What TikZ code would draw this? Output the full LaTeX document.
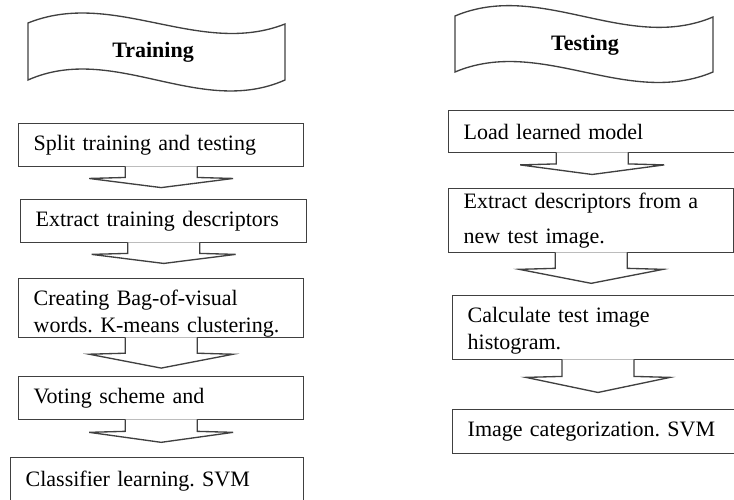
\documentclass[tikz,border=0pt]{standalone}
\usepackage{fontspec}
\setmainfont{Liberation Serif}
\usepackage{tikz}
\usetikzlibrary{calc}

\definecolor{edge}{HTML}{404040}
\newcommand{\stepfont}{\fontsize{16.5pt}{20.25pt}\selectfont\frenchspacing\hyphenpenalty=10000\relax}

% down-arrow callout hanging from box #1 towards box #2 (#3 = share of the gap)
\newcommand{\callarrow}[3]{%
  \coordinate (tip) at ($(#1.south)!#3!(#1.south |- #2.north)$);
  \coordinate (neck) at ($(#1.south)!0.5!(tip)$);
  \filldraw[arr] ($(#1.south)+(-36,-1)$) -- ($(neck)+(-36,0)$) -- ($(neck)+(-72,1)$)
    -- (tip) -- ($(neck)+(72,1)$) -- ($(neck)+(36,0)$) -- ($(#1.south)+(36,-1)$);
}

\begin{document}
\begin{tikzpicture}[
  x=0.75pt, y=-0.75pt,
  box/.style={draw=edge, line width=1pt, anchor=north west, align=left, inner xsep=11.25pt,
    font=\stepfont},
  arr/.style={draw=edge, fill=white, line width=1pt},
  wave/.style={draw=edge, line width=1pt},
  title/.style={font=\fontsize{16.5pt}{20pt}\selectfont\bfseries}
]
\useasboundingbox (0,0) rectangle (734,499);

% banners
\draw[wave] (28,23) .. controls (113.7,-11.6) and (199.3,57.6) .. (285,24)
  -- (285,80) .. controls (199.3,118) and (113.7,42) .. (28,80) -- cycle;
\node[title] (train) at (153,52) {Training};
\draw[wave] (455,16) .. controls (541,-20.3) and (627,53.3) .. (713,17)
  -- (713,72) .. controls (627,108.3) and (541,35.7) .. (455,72) -- cycle;
\node[title] (test) at (585,45) {Testing};

% training steps
\node[box, minimum width=213.75pt, minimum height=32.25pt, text width=191.25pt] (split) at (18,123) {Split training and testing};
\node[box, minimum width=214.5pt, minimum height=32.25pt, text width=192pt] (extract) at (20,199) {Extract training descriptors};
\node[box, minimum width=213.75pt, minimum height=44.25pt, text width=191.25pt, inner ysep=0pt] (bovw) at (18,278) {\rule{0pt}{20pt}Creating Bag-of-visual\\words. K-means clustering.};
\node[box, minimum width=213.75pt, minimum height=32.25pt, text width=191.25pt] (vote) at (18,376) {Voting scheme and};
\node[box, minimum width=219.75pt, minimum height=34.5pt, text width=197.25pt] (classify) at (10,457) {Classifier learning. SVM};

% testing steps
\node[box, minimum width=215.25pt, minimum height=31.5pt, text width=192.75pt] (load) at (448,110) {Load learned model};
\node[box, minimum width=213.75pt, minimum height=48pt, text width=191.25pt] (descr) at (448,188) {Extract descriptors from a\\[5.5pt]new test image.};
\node[box, minimum width=218pt, minimum height=48pt, text width=195.5pt] (hist) at (452,295) {\rule{0pt}{16pt}Calculate test image\\histogram.};
\node[box, minimum width=218pt, minimum height=33pt, text width=195.5pt] (categ) at (452,409) {Image categorization. SVM};

\callarrow{split}{extract}{0.64}
\callarrow{extract}{bovw}{0.58}
\callarrow{bovw}{vote}{0.79}
\callarrow{vote}{classify}{0.6}
\callarrow{load}{descr}{0.61}
\callarrow{descr}{hist}{0.72}
\callarrow{hist}{categ}{0.66}
\end{tikzpicture}
\end{document}
